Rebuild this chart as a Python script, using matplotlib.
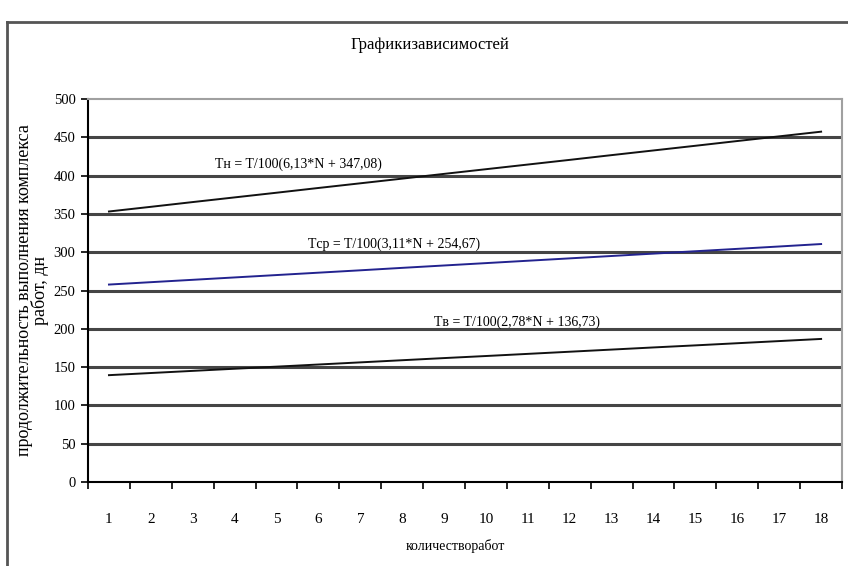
import matplotlib.pyplot as plt
from matplotlib.lines import Line2D
from matplotlib.ticker import FixedLocator

plt.rcParams['font.family'] = ['Liberation Serif', 'DejaVu Serif']

# количество работ N
works = list(range(1, 19))

# продолжительность, дн
t_high = [353.2, 359.3, 365.5, 371.6, 377.7, 383.9, 390.0, 396.1, 402.3,
          408.4, 414.5, 420.6, 426.8, 432.9, 439.0, 445.2, 451.3, 457.4]
t_mid = [257.8, 260.9, 264.0, 267.1, 270.2, 273.3, 276.4, 279.6, 282.7,
         285.8, 288.9, 292.0, 295.1, 298.2, 301.3, 304.4, 307.5, 310.7]
t_low = [139.5, 142.3, 145.1, 147.9, 150.6, 153.4, 156.2, 159.0, 161.8,
         164.5, 167.3, 170.1, 172.9, 175.7, 178.4, 181.2, 184.0, 186.8]

labels = ['Tн = T/100(6,13*N + 347,08)',
          'Tср = T/100(3,11*N + 254,67)',
          'Tв = T/100(2,78*N + 136,73)']

fig = plt.figure(figsize=(8.48, 5.66), dpi=100)
ax = fig.add_axes([0.1038, 0.1484, 0.8892, 0.6766])

# grid
for v in range(50, 500, 50):
    ax.axhline(v, color='#454545', lw=2.2, zorder=1)

ax.plot(works, t_high, color='#111111', lw=1.4, zorder=3)
ax.plot(works, t_mid, color='#23238f', lw=1.4, zorder=3)
ax.plot(works, t_low, color='#111111', lw=1.4, zorder=3)

ax.text(3.53, 406, labels[0], fontsize=10, ha='left', va='bottom')
ax.text(5.75, 302, labels[1], fontsize=10, ha='left', va='bottom')
ax.text(8.77, 200, labels[2], fontsize=10, ha='left', va='bottom')

ax.set_xlim(0.5, 18.5)
ax.set_ylim(0, 500)
ax.set_xticks(works)
ax.set_xticklabels([str(n) for n in works], fontsize=11)
ax.xaxis.set_minor_locator(FixedLocator([n + 0.5 for n in range(0, 19)]))
ax.tick_params(axis='x', which='major', length=0, pad=22)
ax.tick_params(axis='x', which='minor', length=5, width=1.2, direction='out')
ax.set_yticks(range(0, 501, 50))
ax.tick_params(axis='y', labelsize=10.5, length=5, width=1.2, direction='out', pad=4)

for side in ('top', 'right'):
    ax.spines[side].set_color('#a0a0a0')
    ax.spines[side].set_linewidth(1.5)
for side in ('left', 'bottom'):
    ax.spines[side].set_color('black')
    ax.spines[side].set_linewidth(1.5)

ax.set_xlabel('количестворабот', fontsize=10)
ax.xaxis.set_label_coords(0.487, -0.15)
ax.set_ylabel('продолжительность выполнения комплекса\nработ, дн', fontsize=13,
              linespacing=0.85)
ax.yaxis.set_label_coords(-0.052, 0.5)

fig.text(0.507, 0.92, 'Графикизависимостей', fontsize=12, ha='center', va='center')

# outer frame
fig.add_artist(Line2D([0.0085, 0.0085], [0.0, 0.961], transform=fig.transFigure,
                      color='#555555', lw=2))
fig.add_artist(Line2D([0.0085, 1.0], [0.961, 0.961], transform=fig.transFigure,
                      color='#555555', lw=2))

fig.savefig('out.png', dpi=100)
